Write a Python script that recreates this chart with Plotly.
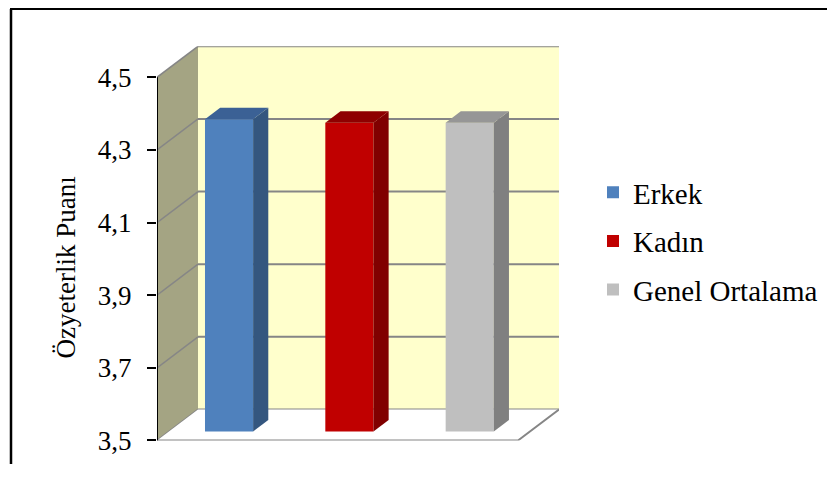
import plotly.graph_objects as go

# ---- data ----
categories = ["Erkek", "Kadın", "Genel Ortalama"]
values = [4.36, 4.35, 4.35]
front_colors = ["#4F81BD", "#C00000", "#BFBFBF"]
side_colors = ["#34567F", "#800000", "#808080"]
top_colors = ["#3B6195", "#8E0000", "#969696"]
tick_vals = [3.5, 3.7, 3.9, 4.1, 4.3, 4.5]
tick_text = ["3,5", "3,7", "3,9", "4,1", "4,3", "4,5"]
y_title = "Özyeterlik Puanı"

# figure placed inside the html body (8px margin)
BODY = 8
SY = 495 / 479          # reference px -> page px (vertical)
W, H = 827, 471
FONT = "Liberation Serif, Times New Roman, serif"


def fx(px):  # reference pixel -> paper fraction (x)
    return (px - BODY) / W


def fy(py):  # reference pixel -> paper fraction (y)
    return 1 - (py * SY - BODY) / H


# ---- 3D geometry (data units) ----
YMIN, YMAX = 3.5, 4.5
DX, DY = 0.3407, 0.0854          # depth offset of back wall
F0, F1 = 0.29, 0.66              # bar front/back depth fraction
BW = 0.40                        # bar width
XMIN = -0.5
XMAX_FRONT = len(categories) - 0.5

fig = go.Figure()

# front faces
for i, (c, v) in enumerate(zip(categories, values)):
    fig.add_trace(go.Bar(
        x=[i + F0 * DX], y=[v - YMIN], base=[YMIN + F0 * DY], width=BW,
        marker=dict(color=front_colors[i], line=dict(width=0)),
        name=c, legendgroup=c, showlegend=True, hoverinfo="skip",
    ))

# side and top faces
for i, (c, v) in enumerate(zip(categories, values)):
    xl = i - BW / 2
    xr = i + BW / 2
    sx = [xr + F0 * DX, xr + F1 * DX, xr + F1 * DX, xr + F0 * DX, xr + F0 * DX]
    sy = [YMIN + F0 * DY, YMIN + F1 * DY, v + F1 * DY, v + F0 * DY, YMIN + F0 * DY]
    fig.add_trace(go.Scatter(x=sx, y=sy, fill="toself", fillcolor=side_colors[i],
                             mode="lines", line=dict(width=0), showlegend=False,
                             legendgroup=c, hoverinfo="skip"))
    tx = [xl + F0 * DX, xl + F1 * DX, xr + F1 * DX, xr + F0 * DX, xl + F0 * DX]
    ty = [v + F0 * DY, v + F1 * DY, v + F1 * DY, v + F0 * DY, v + F0 * DY]
    fig.add_trace(go.Scatter(x=tx, y=ty, fill="toself", fillcolor=top_colors[i],
                             mode="lines", line=dict(width=0), showlegend=False,
                             legendgroup=c, hoverinfo="skip"))

shapes = []
GRID = "#868686"
# side wall
shapes.append(dict(type="path", layer="below", xref="x", yref="y",
                   path=f"M{XMIN},{YMIN} L{XMIN+DX},{YMIN+DY} L{XMIN+DX},{YMAX+DY} L{XMIN},{YMAX} Z",
                   fillcolor="#A4A483", line=dict(width=0)))
# back wall
shapes.append(dict(type="rect", layer="below", xref="x", yref="y",
                   x0=XMIN + DX, x1=XMAX_FRONT + DX, y0=YMIN + DY, y1=YMAX + DY,
                   fillcolor="#FFFFCC", line=dict(width=0)))
# gridlines
for t in tick_vals:
    shapes.append(dict(type="line", layer="below", xref="x", yref="y",
                       x0=XMIN + DX, x1=XMAX_FRONT + DX, y0=t + DY, y1=t + DY,
                       line=dict(color=GRID, width=2)))
    shapes.append(dict(type="line", layer="below", xref="x", yref="y",
                       x0=XMIN, x1=XMIN + DX, y0=t, y1=t + DY,
                       line=dict(color=GRID, width=1.5)))
# floor
shapes.append(dict(type="path", layer="below", xref="x", yref="y",
                   path=f"M{XMIN},{YMIN} L{XMAX_FRONT},{YMIN} L{XMAX_FRONT+DX},{YMIN+DY} L{XMIN+DX},{YMIN+DY} Z",
                   fillcolor="white", line=dict(width=0)))
shapes.append(dict(type="path", layer="below", xref="x", yref="y",
                   path=f"M{XMIN},{YMIN} L{XMAX_FRONT},{YMIN} L{XMAX_FRONT+DX},{YMIN+DY}",
                   line=dict(color=GRID, width=2)))
# front axis line
shapes.append(dict(type="line", layer="above", xref="x", yref="y",
                   x0=XMIN, x1=XMIN, y0=YMIN, y1=YMAX,
                   line=dict(color="black", width=2)))
# outer chart border (top and left edges)
shapes.append(dict(type="line", xref="paper", yref="paper",
                   x0=fx(10), x1=fx(829), y0=1 - 1 / H, y1=1 - 1 / H,
                   line=dict(color="black", width=2)))
shapes.append(dict(type="line", xref="paper", yref="paper",
                   x0=fx(11), x1=fx(11), y0=1 - 1 / H, y1=0,
                   line=dict(color="black", width=2.5)))

# plot area (reference pixels)
PX_L, PX_R, PX_T, PX_B = 157, 559, 46, 440
x_scale = (518 - 157) / (XMAX_FRONT - XMIN)   # px per unit at front plane
y_scale = (440 - 77) / (YMAX - YMIN)
x_hi = XMIN + (PX_R - PX_L) / x_scale
y_hi = YMIN + (PX_B - PX_T) / y_scale

fig.update_layout(
    width=W, height=H,
    margin=dict(l=0, r=0, t=0, b=0),
    paper_bgcolor="white", plot_bgcolor="rgba(0,0,0,0)",
    font=dict(family=FONT, size=27, color="black"),
    barmode="overlay",
    showlegend=True,
    legend=dict(x=fx(593), xanchor="left", y=fy(241), yanchor="middle",
                font=dict(family=FONT, size=29, color="black"),
                bgcolor="rgba(0,0,0,0)", tracegroupgap=8, traceorder="grouped"),
    xaxis=dict(domain=[fx(PX_L), fx(PX_R)], range=[XMIN, x_hi], visible=False,
               fixedrange=True),
    yaxis=dict(domain=[fy(PX_B), fy(PX_T)], range=[YMIN, y_hi],
               tickvals=tick_vals, ticktext=tick_text, ticks="outside",
               ticklen=9, tickwidth=2, tickcolor="black", showgrid=False,
               zeroline=False, showline=False, ticklabelstandoff=10,
               tickfont=dict(family=FONT, size=27, color="black"), fixedrange=True),
    shapes=shapes,
    annotations=[dict(text=y_title, textangle=-90, xref="paper", yref="paper",
                      x=fx(66), y=fy(267), xanchor="center", yanchor="middle",
                      showarrow=False,
                      font=dict(family=FONT, size=27, color="black"))],
)

fig.write_html("out.html")
